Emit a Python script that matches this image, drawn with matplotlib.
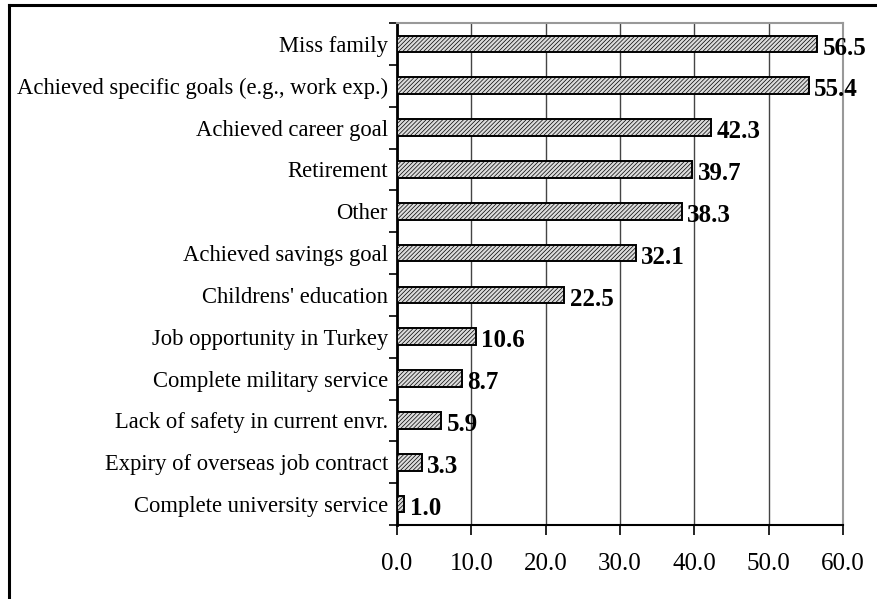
import matplotlib

matplotlib.use("Agg")

import matplotlib.pyplot as plt
from matplotlib.lines import Line2D
from matplotlib.ticker import FixedLocator, MultipleLocator

categories = [
    "Miss family",
    "Achieved specific goals (e.g., work exp.)",
    "Achieved career goal",
    "Retirement",
    "Other",
    "Achieved savings goal",
    "Childrens' education",
    "Job opportunity in Turkey",
    "Complete military service",
    "Lack of safety in current envr.",
    "Expiry of overseas job contract",
    "Complete university service",
]
values = [56.5, 55.4, 42.3, 39.7, 38.3, 32.1, 22.5, 10.6, 8.7, 5.9, 3.3, 1.0]

plt.rcParams["font.family"] = ["Liberation Serif", "DejaVu Serif"]
plt.rcParams["hatch.color"] = "#9a9a9a"
plt.rcParams["hatch.linewidth"] = 0.5

fig = plt.figure(figsize=(8.78, 5.99), dpi=100)
ax = fig.add_axes([397 / 878, 1 - 525 / 599, (843 - 397) / 878, (525 - 23) / 599])

y = list(range(len(categories)))
ax.barh(y, values, height=0.4, color="#dcdcdc", edgecolor="black",
        linewidth=1.4, hatch="////////", zorder=3)

for yi, v in zip(y, values):
    ax.annotate(f"{v:.1f}", (v, yi), xytext=(4, -3), textcoords="offset points",
                va="center", ha="left", fontsize=18, fontweight="bold", zorder=4)

ax.set_xlim(0, 60)
ax.set_ylim(len(categories) - 0.5, -0.5)
ax.xaxis.set_major_locator(MultipleLocator(10))
ax.xaxis.set_major_formatter(lambda x, pos: f"{x:.1f}")
ax.set_yticks(y)
ax.set_yticklabels(categories, fontsize=16.3)
ax.tick_params(axis="y", which="major", length=0, pad=6.5)
ax.yaxis.set_minor_locator(FixedLocator([i - 0.5 for i in range(len(categories) + 1)]))
ax.tick_params(axis="y", which="minor", length=6, width=1.2, direction="out")
ax.tick_params(axis="x", length=7, width=1.2, direction="out", labelsize=18, pad=13)

ax.grid(axis="x", color="#444444", linewidth=1.0, zorder=0)
ax.spines["left"].set_linewidth(2)
ax.spines["bottom"].set_linewidth(1.5)
ax.spines["top"].set_color("#999999")
ax.spines["right"].set_color("#999999")
ax.spines["top"].set_linewidth(1.5)
ax.spines["right"].set_linewidth(1.5)

# outer border (cropped on right and bottom)
x0 = 9 / 878
y0 = 1 - 5 / 599
fig.add_artist(Line2D([x0, x0], [0, y0], color="black", linewidth=2.2, transform=fig.transFigure))
fig.add_artist(Line2D([x0, 1], [y0, y0], color="black", linewidth=2.2, transform=fig.transFigure))

fig.savefig("out.png", dpi=100)
